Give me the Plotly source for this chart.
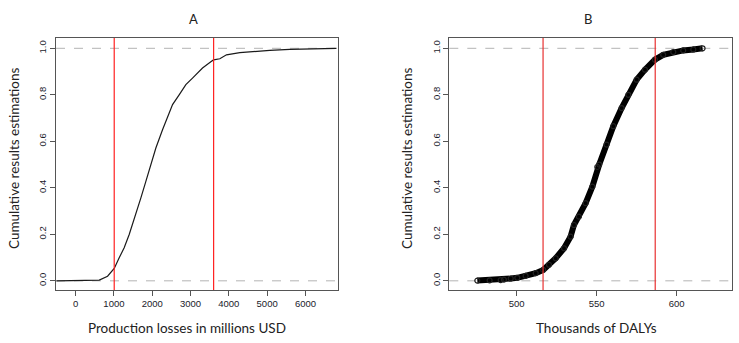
import plotly.graph_objects as go

# Panel A: production losses (millions USD) vs cumulative proportion
A_x = [-500, 356, 617, 834, 965, 1008, 1138, 1268, 1399, 1573, 1704, 1834, 1964,
       2095, 2269, 2400, 2531, 2703, 2878, 3052, 3313, 3574, 3603, 3765, 3939,
       4287, 4722, 5069, 5591, 6113, 6810]
A_F = [0.0, 0.0, 0.003, 0.02, 0.042, 0.053, 0.099, 0.142, 0.199, 0.285, 0.357,
       0.428, 0.50, 0.571, 0.65, 0.70, 0.758, 0.80, 0.844, 0.872, 0.915, 0.947,
       0.950, 0.955, 0.972, 0.981, 0.987, 0.991, 0.995, 0.997, 1.0]

# Panel B: thousands of DALYs vs cumulative proportion
B_x = [475.4, 483.1, 490.0, 492.0, 496.3, 500.4, 505.6, 511.9, 516.6, 520.2,
       524.4, 529.6, 533.7, 535.8, 538.9, 543.1, 547.3, 550.4, 551.6, 556.2,
       560.4, 565.6, 569.8, 575.0, 580.2, 586.4, 591.6, 597.9, 604.1, 610.4, 616.2]
B_F = [0.001, 0.002, 0.003, 0.005, 0.010, 0.013, 0.021, 0.033, 0.047, 0.069,
       0.097, 0.140, 0.190, 0.240, 0.276, 0.334, 0.405, 0.490, 0.500, 0.586,
       0.665, 0.743, 0.800, 0.865, 0.908, 0.951, 0.972, 0.984, 0.991, 0.995, 1.0]

A_limits = [1008, 3603]
B_limits = [516.5, 586.6]

A_ticks = [0, 1000, 2000, 3000, 4000, 5000, 6000]
B_ticks = [500, 550, 600]
Y_ticks = [0.0, 0.2, 0.4, 0.6, 0.8, 1.0]
Y_labels = ["0.0", "0.2", "0.4", "0.6", "0.8", "1.0"]

W, H = 739, 343
FONT = "Lato"
TICKFONT = "Liberation Sans"
GRAY = "#555555"

fig = go.Figure()

fig.add_trace(go.Scatter(x=A_x, y=A_F, mode="lines", xaxis="x", yaxis="y",
                         line=dict(color="#1a1a1a", width=1.2), showlegend=False))
fig.add_trace(go.Scatter(x=B_x, y=B_F, mode="lines+markers", xaxis="x2", yaxis="y2",
                         line=dict(color="#000000", width=6),
                         marker=dict(symbol="circle-open", size=5, color="#222222",
                                     line=dict(width=1.2)),
                         showlegend=False))

dom_a = [56 / W, 338 / W]
dom_b = [449.3 / W, 731.7 / W]
dom_y = [1 - 290 / H, 1 - 38 / H]

axis_common = dict(showline=True, linecolor=GRAY, linewidth=1, mirror=True,
                   ticks="outside", ticklen=5, tickcolor=GRAY, showgrid=False,
                   zeroline=False, tickfont=dict(family=TICKFONT, size=9.5, color="#1a1a2a"))

fig.update_layout(
    width=W, height=H, margin=dict(l=0, r=0, t=0, b=0),
    paper_bgcolor="white", plot_bgcolor="white",
    xaxis=dict(domain=dom_a, range=[-512, 6850], tickvals=A_ticks, anchor="y", **axis_common),
    yaxis=dict(domain=dom_y, range=[-0.0395, 1.0443], tickvals=Y_ticks, ticktext=Y_labels,
               tickangle=-90, anchor="x", **axis_common),
    xaxis2=dict(domain=dom_b, range=[457.9, 634.4], tickvals=B_ticks, anchor="y2", **axis_common),
    yaxis2=dict(domain=dom_y, range=[-0.0395, 1.0443], tickvals=Y_ticks, ticktext=Y_labels,
                tickangle=-90, anchor="x2", **axis_common),
)

shapes = []
for xr, yr in (("x", "y"), ("x2", "y2")):
    for lvl in (0.0, 1.0):
        shapes.append(dict(type="line", xref=xr + " domain", yref=yr, x0=0, x1=1,
                           y0=lvl, y1=lvl, line=dict(color="#b3b3b3", width=1, dash="dash"),
                           layer="below"))
for v in A_limits:
    shapes.append(dict(type="line", xref="x", yref="y domain", x0=v, x1=v, y0=0, y1=1,
                       line=dict(color="#ff2020", width=1.2)))
for v in B_limits:
    shapes.append(dict(type="line", xref="x2", yref="y2 domain", x0=v, x1=v, y0=0, y1=1,
                       line=dict(color="#e83030", width=1.2)))
fig.update_layout(shapes=shapes)

ann_font = dict(family=FONT, size=13.5, color="#222222")
def ann(text, px, py, font, angle=0):
    return dict(text=text, x=px / W, y=1 - py / H, xref="paper", yref="paper",
                showarrow=False, xanchor="center", yanchor="middle",
                textangle=angle, font=font)

title_font = dict(family=FONT, size=13, color="#222222")
annotations = [
    ann("A", 193, 19, title_font),
    ann("B", 588, 19, title_font),
    ann("Production losses in millions USD", 187, 328, ann_font),
    ann("Thousands of DALYs", 596, 328, ann_font),
    ann("Cumulative results estimations", 14, 158, ann_font, -90),
    ann("Cumulative results estimations", 407, 158, ann_font, -90),
]
fig.update_layout(annotations=annotations)

fig.write_html("out.html", config={"displayModeBar": False},
               post_script="document.body.style.margin='0';")
